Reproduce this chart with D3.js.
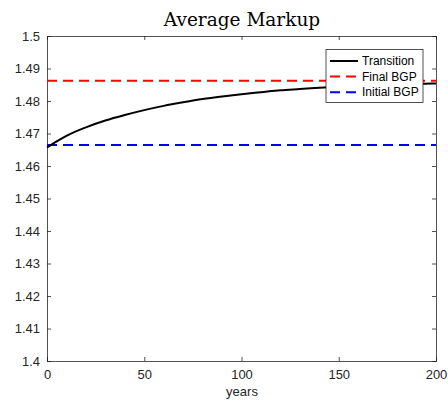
<!DOCTYPE html>
<html><head><meta charset="utf-8">
<script src="https://cdn.jsdelivr.net/npm/d3@7"></script>
<style>body{margin:0;background:#fff}svg{display:block}</style>
</head><body>
<svg id="c" width="448" height="407"></svg>
<script>
const years = [0,5,10,20,30,40,50,60,70,80,90,100,110,120,130,140,150,160,170,180,190,200];
const transition = [1.4657,1.4676,1.4693,1.4719,1.4740,1.4757,1.4772,1.4785,1.4796,1.4806,1.4814,1.4821,1.4827,1.4833,1.4837,1.4841,1.4844,1.4847,1.4849,1.4851,1.4852,1.4854];
const finalBGP = 1.4862;
const initialBGP = 1.4665;
const xTicks = [0,50,100,150,200];
const yTicks = [1.4,1.41,1.42,1.43,1.44,1.45,1.46,1.47,1.48,1.49,1.5];
const legendLabels = ["Transition","Final BGP","Initial BGP"];

const svg = d3.select("#c");
const L=47,R=436,T=36,B=361;
const x = d3.scaleLinear().domain([0,200]).range([L,R]);
const y = d3.scaleLinear().domain([1.4,1.5]).range([B,T]);
const axisColor="#262626";
const fmt = d => d===1.4?"1.4":d===1.5?"1.5":d3.format(".2f")(d);

const gx = svg.append("g").attr("transform",`translate(0,${B})`)
  .call(d3.axisBottom(x).tickValues(xTicks).tickSize(-4).tickPadding(9).tickFormat(d3.format("d")));
const gy = svg.append("g").attr("transform",`translate(${L},0)`)
  .call(d3.axisLeft(y).tickValues(yTicks).tickSize(-4).tickPadding(7).tickFormat(fmt));
const gt = svg.append("g").attr("transform",`translate(0,${T})`)
  .call(d3.axisTop(x).tickValues(xTicks).tickSize(-4).tickFormat(""));
const gr = svg.append("g").attr("transform",`translate(${R},0)`)
  .call(d3.axisRight(y).tickValues(yTicks).tickSize(-4).tickFormat(""));
[gx,gy,gt,gr].forEach(g=>{
  g.selectAll("path,line").attr("stroke",axisColor).attr("stroke-width",0.8);
  g.selectAll("text").attr("fill",axisColor).style("font-family","'Liberation Sans',Arial,sans-serif").style("font-size","13px");
});

svg.append("line").attr("x1",x(0)).attr("x2",x(200)).attr("y1",y(finalBGP)).attr("y2",y(finalBGP))
  .attr("stroke","#ff0000").attr("stroke-width",2).attr("stroke-dasharray","10,6");
svg.append("line").attr("x1",x(0)).attr("x2",x(200)).attr("y1",y(initialBGP)).attr("y2",y(initialBGP))
  .attr("stroke","#0000ff").attr("stroke-width",2).attr("stroke-dasharray","10,6");
svg.append("path").datum(years.map((t,i)=>[t,transition[i]]))
  .attr("d",d3.line().x(d=>x(d[0])).y(d=>y(d[1])).curve(d3.curveMonotoneX))
  .attr("fill","none").attr("stroke","#000").attr("stroke-width",2);

svg.append("text").attr("x",242).attr("y",26).attr("text-anchor","middle")
  .style("font-family","'DejaVu Serif','Liberation Serif',serif").style("font-size","18.5px").attr("fill","#000").text("Average Markup");
svg.append("text").attr("x",242).attr("y",396).attr("text-anchor","middle")
  .style("font-family","'Liberation Sans',Arial,sans-serif").style("font-size","13px").attr("fill",axisColor).text("years");

const lg = svg.append("g");
lg.append("rect").attr("x",326).attr("y",49.5).attr("width",97).attr("height",53)
  .attr("fill","#fff").attr("stroke",axisColor).attr("stroke-width",0.8);
const lstyles=[{c:"#000",d:null},{c:"#ff0000",d:"10,6"},{c:"#0000ff",d:"10,6"}];
legendLabels.forEach((lab,i)=>{
  const yy = 61 + i*15.6;
  lg.append("line").attr("x1",330).attr("x2",358).attr("y1",yy).attr("y2",yy)
    .attr("stroke",lstyles[i].c).attr("stroke-width",2).attr("stroke-dasharray",lstyles[i].d);
  lg.append("text").attr("x",362).attr("y",yy).attr("dy","0.35em")
    .style("font-family","'Liberation Sans',Arial,sans-serif").style("font-size","12px").attr("fill","#000").text(lab);
});
</script>
</body></html>
